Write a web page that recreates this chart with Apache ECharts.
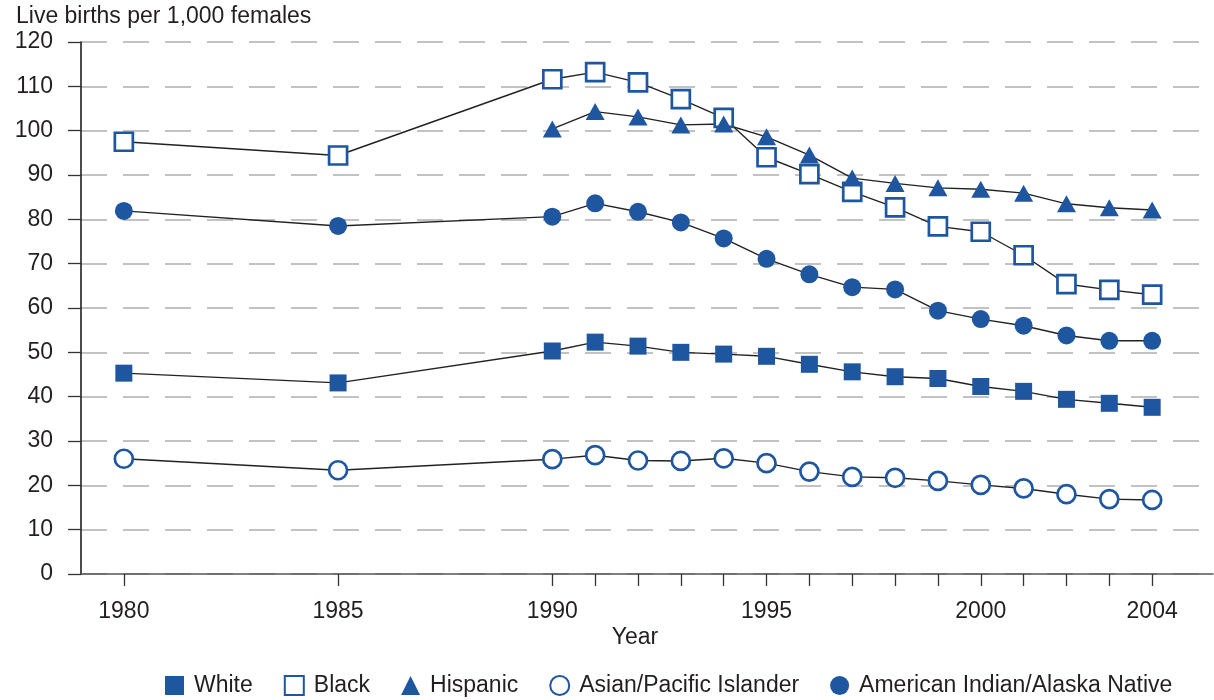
<!DOCTYPE html>
<html>
<head>
<meta charset="utf-8">
<script src="https://cdn.jsdelivr.net/npm/echarts@6/dist/echarts.min.js"></script>
<style>
html,body{margin:0;padding:0;background:#fff;}
#chart{width:1214px;height:700px;}
</style>
</head>
<body>
<div id="chart"></div>
<script>
const years = [1980,1985,1990,1991,1992,1993,1994,1995,1996,1997,1998,1999,2000,2001,2002,2003,2004];
const tickYears = [1980,1985,1990,1991,1992,1993,1994,1995,1996,1997,1998,1999,2000,2001,2002,2003,2004];
const labelYears = [1980,1985,1990,1995,2000,2004];
const white    = [45.3,43.1,50.3,52.3,51.4,50.0,49.6,49.1,47.3,45.6,44.5,44.1,42.3,41.2,39.4,38.5,37.6];
const black    = [97.5,94.4,111.6,113.2,110.9,107.1,102.9,94.0,90.2,86.2,82.7,78.4,77.2,71.9,65.4,64.1,63.0];
const hispanic = [null,null,100.4,104.3,103.1,101.3,101.5,98.6,94.5,89.3,88.1,87.1,86.8,85.9,83.5,82.6,82.1];
const asianPI  = [26.0,23.4,25.9,26.8,25.6,25.5,26.1,25.0,23.1,21.9,21.7,21.0,20.1,19.3,18.0,16.9,16.7];
const aian     = [81.9,78.5,80.6,83.6,81.7,79.3,75.7,71.1,67.6,64.7,64.2,59.4,57.5,56.0,53.8,52.6,52.6];

const BLUE = '#1f56a0';
const FONT = '"Liberation Sans", Arial, sans-serif';
const TXT = '#231f20';

function pairs(vals){ return years.map((y,i)=>[y, vals[i]]).filter(p=>p[1]!==null); }

function makeSeries(name, vals, symbol, size, filled){
  return {
    name: name, type: 'line', data: pairs(vals),
    symbol: symbol, symbolSize: size,
    lineStyle: {color:'#222', width:1.4},
    itemStyle: filled ? {color: BLUE, borderColor: BLUE, borderWidth: 0}
                      : {color: '#ffffff', borderColor: BLUE, borderWidth: 2.7},
    emphasis: {disabled: true},
    animation: false
  };
}

const chart = echarts.init(document.getElementById('chart'), null, {renderer:'canvas'});
chart.setOption({
  backgroundColor: '#ffffff',
  animation: false,
  title: {
    text: 'Live births per 1,000 females', left: 11, top: 0,
    textStyle: {fontFamily: FONT, fontSize: 23, fontWeight: 'normal', color: TXT}
  },
  graphic: [{
    type: 'text', x: 635, y: 638,
    style: {text: 'Year', align: 'center', verticalAlign: 'middle', font: '23px ' + FONT, fill: TXT}
  }],
  legend: {
    top: 674, left: 165, padding: 0, itemGap: 31, itemWidth: 19, itemHeight: 19,
    textStyle: {fontFamily: FONT, fontSize: 23, color: TXT, padding: [0,0,0,5]},
    data: [
      {name:'White', icon:'rect'},
      {name:'Black', icon:'rect'},
      {name:'Hispanic', icon:'triangle'},
      {name:'Asian/Pacific Islander', icon:'circle'},
      {name:'American Indian/Alaska Native', icon:'circle'}
    ]
  },
  grid: {left: 81, right: 1, top: 42, bottom: 126, containLabel: false},
  xAxis: {
    type: 'value', min: 1979, max: 2005.42,
    axisLine: {show: true, lineStyle: {color: '#555', width: 1.5}},
    axisTick: {show: true, length: 12, customValues: tickYears, lineStyle: {color: '#333', width: 1.3}},
    axisLabel: {customValues: labelYears, margin: 26, fontFamily: FONT, fontSize: 23, color: TXT,
                formatter: v => String(v)},
    splitLine: {show: false}
  },
  yAxis: {
    type: 'value', min: 0, max: 120, interval: 10,
    axisLine: {show: true, lineStyle: {color: '#111', width: 1.5}},
    axisTick: {show: true, length: 13, lineStyle: {color: '#333', width: 1.3}},
    axisLabel: {margin: 28, fontFamily: FONT, fontSize: 23, color: TXT},
    splitLine: {show: true, lineStyle: {color: '#c2c2c2', width: 2, type: [26,16]}}
  },
  series: [
    makeSeries('White', white, 'rect', 17, true),
    makeSeries('Black', black, 'rect', 18, false),
    makeSeries('Hispanic', hispanic, 'triangle', [19,17], true),
    makeSeries('Asian/Pacific Islander', asianPI, 'circle', 18, false),
    makeSeries('American Indian/Alaska Native', aian, 'circle', 18, true)
  ]
});
</script>
</body>
</html>
